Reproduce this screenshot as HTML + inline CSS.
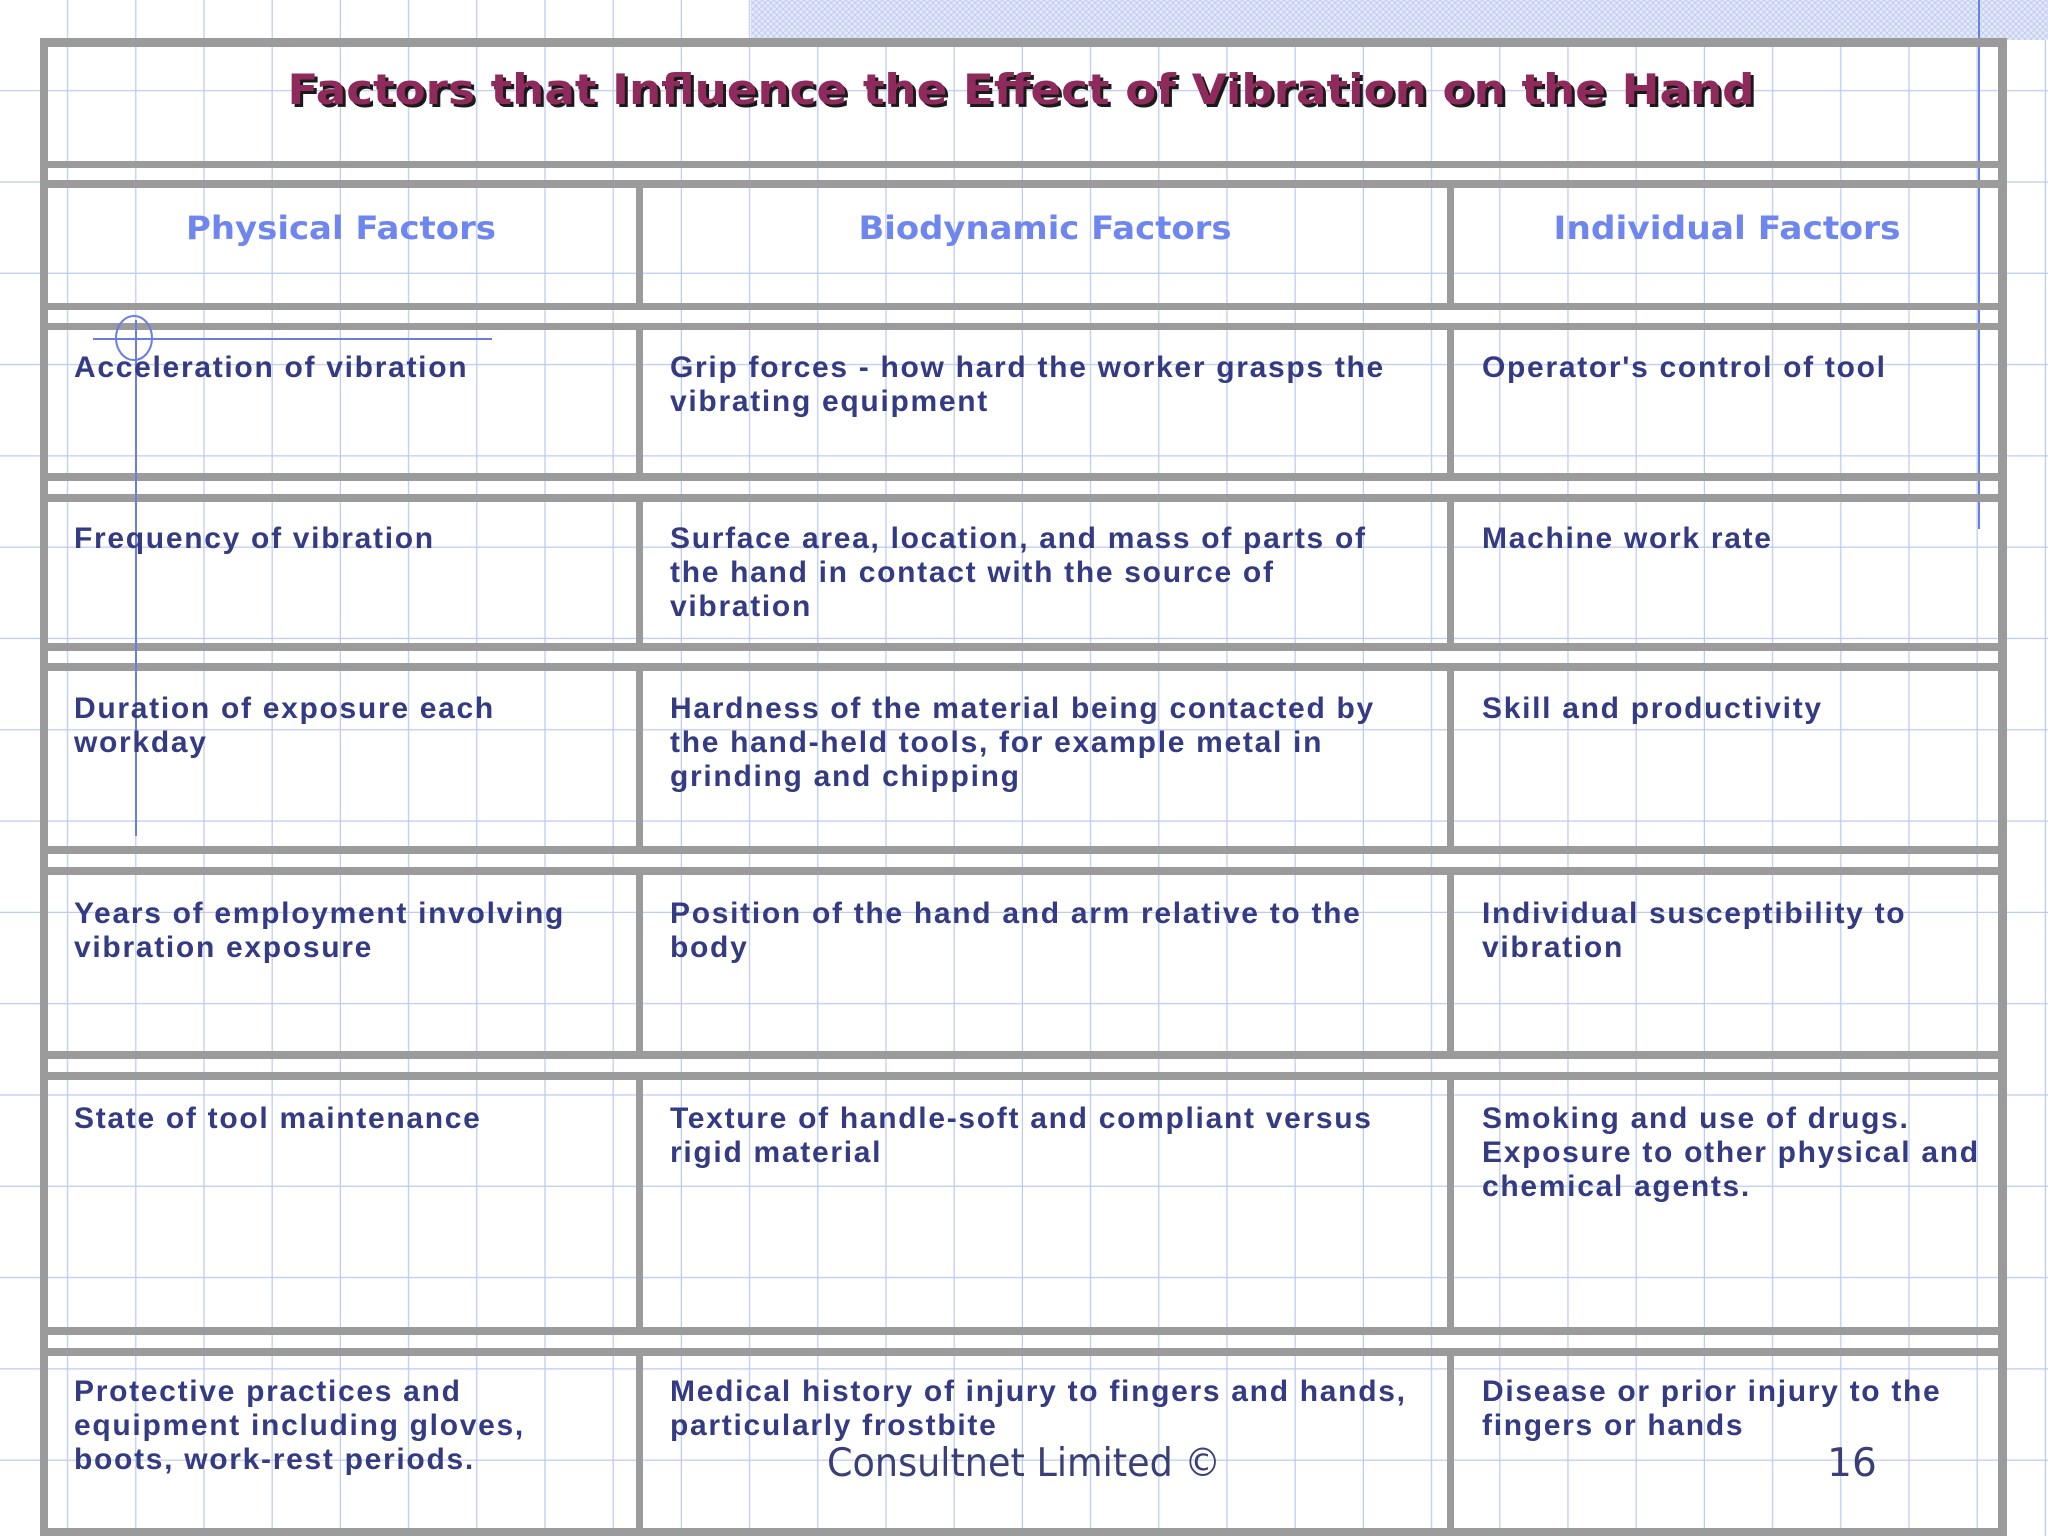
<!DOCTYPE html>
<html><head><meta charset="utf-8"><style>
html,body{margin:0;padding:0;background:#fff;}
svg{display:block;}
.body{font-family:"Liberation Sans",sans-serif;font-weight:bold;font-size:30px;letter-spacing:1.7px;fill:#353b82;}
.hdr{font-family:"DejaVu Sans","Liberation Sans",sans-serif;font-weight:bold;font-size:32px;fill:#6f86ef;}
</style></head><body>
<svg width="2048" height="1536" viewBox="0 0 2048 1536" xmlns="http://www.w3.org/2000/svg">
<defs>
<pattern id="grid" x="0" y="0" width="68.2" height="91.3" patternUnits="userSpaceOnUse">
<rect width="68.2" height="91.3" fill="#fff"/>
<line x1="68.2" y1="0" x2="68.2" y2="91.3" stroke="#bccbf2" stroke-width="2.5"/>
<line x1="0" y1="91.3" x2="68.2" y2="91.3" stroke="#bccbf2" stroke-width="2.5"/>
</pattern>
<pattern id="hatch" width="6" height="6" patternUnits="userSpaceOnUse">
<rect width="6" height="6" fill="#e4e9f8"/>
<path d="M0 0L6 6M6 0L0 6" stroke="#c3cdef" stroke-width="1"/>
</pattern>
</defs>
<rect width="2048" height="1536" fill="url(#grid)"/>
<rect x="751" y="0" width="1297" height="40" fill="url(#hatch)"/>
<line x1="1979" y1="0" x2="1979" y2="529" stroke="#6b7fe0" stroke-width="2"/>

<g fill="#9b9b9b">
<rect x="40" y="38" width="1967" height="9"/>
<rect x="40" y="38" width="8" height="1498"/>
<rect x="1998" y="38" width="9" height="1498"/>
<rect x="40" y="1528" width="1967" height="8"/>
<rect x="40" y="161" width="1967" height="7"/>
<rect x="40" y="180" width="1967" height="8"/>
<rect x="40" y="303" width="1967" height="7"/>
<rect x="40" y="323" width="1967" height="7"/>
<rect x="40" y="473" width="1967" height="8"/>
<rect x="40" y="494" width="1967" height="8"/>
<rect x="40" y="643" width="1967" height="8"/>
<rect x="40" y="663" width="1967" height="8"/>
<rect x="40" y="846" width="1967" height="8"/>
<rect x="40" y="867" width="1967" height="8"/>
<rect x="40" y="1051" width="1967" height="8"/>
<rect x="40" y="1072" width="1967" height="8"/>
<rect x="40" y="1327" width="1967" height="8"/>
<rect x="40" y="1348" width="1967" height="8"/>
<rect x="636" y="180" width="7" height="130"/><rect x="1447" y="180" width="7" height="130"/>
<rect x="636" y="323" width="7" height="158"/><rect x="1447" y="323" width="7" height="158"/>
<rect x="636" y="494" width="7" height="157"/><rect x="1447" y="494" width="7" height="157"/>
<rect x="636" y="663" width="7" height="191"/><rect x="1447" y="663" width="7" height="191"/>
<rect x="636" y="867" width="7" height="192"/><rect x="1447" y="867" width="7" height="192"/>
<rect x="636" y="1072" width="7" height="263"/><rect x="1447" y="1072" width="7" height="263"/>
<rect x="636" y="1348" width="7" height="188"/><rect x="1447" y="1348" width="7" height="188"/>
</g>

<g stroke="#6b7fe0" stroke-width="2" fill="none">
<line x1="136" y1="320" x2="136" y2="836"/>
<line x1="93" y1="339" x2="492" y2="339"/>
<ellipse cx="134" cy="338" rx="18" ry="22"/>
</g>

<text x="1024" y="107" text-anchor="middle" font-family="DejaVu Sans, Liberation Sans, sans-serif" font-weight="bold" font-size="42" fill="#1a1a1a" textLength="1467" lengthAdjust="spacingAndGlyphs">Factors that Influence the Effect of Vibration on the Hand</text>
<text x="1021" y="104" text-anchor="middle" font-family="DejaVu Sans, Liberation Sans, sans-serif" font-weight="bold" font-size="42" fill="#8e2b5c" textLength="1467" lengthAdjust="spacingAndGlyphs">Factors that Influence the Effect of Vibration on the Hand</text>

<text class="hdr" x="341" y="239" text-anchor="middle" textLength="310" lengthAdjust="spacingAndGlyphs">Physical Factors</text>
<text class="hdr" x="1045" y="239" text-anchor="middle" textLength="373" lengthAdjust="spacingAndGlyphs">Biodynamic Factors</text>
<text class="hdr" x="1727" y="239" text-anchor="middle" textLength="347" lengthAdjust="spacingAndGlyphs">Individual Factors</text>

<g class="body">
<text x="74" y="377">Acceleration of vibration</text>
<text x="670" y="377"><tspan x="670">Grip forces - how hard the worker grasps the</tspan><tspan x="670" dy="34">vibrating equipment</tspan></text>
<text x="1482" y="377">Operator's control of tool</text>

<text x="74" y="548">Frequency of vibration</text>
<text x="670" y="548"><tspan x="670">Surface area, location, and mass of parts of</tspan><tspan x="670" dy="34">the hand in contact with the source of</tspan><tspan x="670" dy="34">vibration</tspan></text>
<text x="1482" y="548">Machine work rate</text>

<text x="74" y="718"><tspan x="74">Duration of exposure each</tspan><tspan x="74" dy="34">workday</tspan></text>
<text x="670" y="718"><tspan x="670">Hardness of the material being contacted by</tspan><tspan x="670" dy="34">the hand-held tools, for example metal in</tspan><tspan x="670" dy="34">grinding and chipping</tspan></text>
<text x="1482" y="718">Skill and productivity</text>

<text x="74" y="923"><tspan x="74">Years of employment involving</tspan><tspan x="74" dy="34">vibration exposure</tspan></text>
<text x="670" y="923"><tspan x="670">Position of the hand and arm relative to the</tspan><tspan x="670" dy="34">body</tspan></text>
<text x="1482" y="923"><tspan x="1482">Individual susceptibility to</tspan><tspan x="1482" dy="34">vibration</tspan></text>

<text x="74" y="1128">State of tool maintenance</text>
<text x="670" y="1128"><tspan x="670">Texture of handle-soft and compliant versus</tspan><tspan x="670" dy="34">rigid material</tspan></text>
<text x="1482" y="1128"><tspan x="1482">Smoking and use of drugs.</tspan><tspan x="1482" dy="34">Exposure to other physical and</tspan><tspan x="1482" dy="34">chemical agents.</tspan></text>

<text x="74" y="1401"><tspan x="74">Protective practices and</tspan><tspan x="74" dy="34">equipment including gloves,</tspan><tspan x="74" dy="34">boots, work-rest periods.</tspan></text>
<text x="670" y="1401"><tspan x="670">Medical history of injury to fingers and hands,</tspan><tspan x="670" dy="34">particularly frostbite</tspan></text>
<text x="1482" y="1401"><tspan x="1482">Disease or prior injury to the</tspan><tspan x="1482" dy="34">fingers or hands</tspan></text>
</g>

<text x="1024" y="1476" text-anchor="middle" font-family="DejaVu Sans, Liberation Sans, sans-serif" font-size="39" fill="#3b3f78" textLength="394" lengthAdjust="spacingAndGlyphs">Consultnet Limited ©</text>
<text x="1852" y="1476" text-anchor="middle" font-family="DejaVu Sans, Liberation Sans, sans-serif" font-size="39" fill="#3b3f78">16</text>
</svg>
</body></html>
